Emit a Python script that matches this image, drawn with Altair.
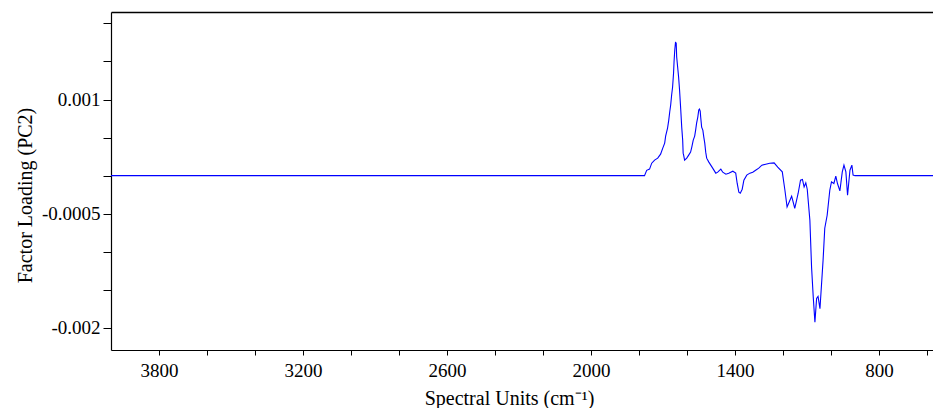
import altair as alt
import pandas as pd

# Spectral units (cm^-1)
wavenumber = [
    4000, 1777, 1768, 1756, 1747, 1735, 1722, 1710, 1701, 1693, 1689, 1681, 1676,
    1672, 1668, 1664, 1660, 1656, 1654, 1651, 1648, 1645, 1643, 1639, 1635, 1631,
    1626, 1622, 1618, 1616, 1614, 1610, 1601, 1593, 1585, 1580, 1574, 1568, 1564,
    1560, 1555, 1551, 1548, 1545, 1543, 1539, 1534, 1530, 1526, 1522, 1518, 1509,
    1501, 1493, 1480, 1472, 1459, 1451, 1438, 1426, 1409, 1397, 1391, 1384, 1378,
    1370, 1363, 1351, 1338, 1326, 1314, 1301, 1288, 1272, 1255, 1237, 1222, 1203,
    1192, 1183, 1164, 1151, 1137, 1127, 1119, 1112, 1105, 1099, 1088, 1081, 1074,
    1067, 1060, 1054, 1046, 1033, 1026, 1016, 1005, 998, 988, 980, 973, 963, 953,
    946, 938, 931, 921, 913, 908, 900, 575,
]
# Factor loading (PC2)
loading = [
    0.0, 0.0, 0.070e-3, 0.086e-3, 0.164e-3, 0.204e-3, 0.230e-3, 0.283e-3, 0.362e-3,
    0.428e-3, 0.520e-3, 0.625e-3, 0.730e-3, 0.836e-3, 0.928e-3, 1.059e-3, 1.164e-3,
    1.349e-3, 1.493e-3, 1.651e-3, 1.750e-3, 1.743e-3, 1.559e-3, 1.428e-3, 1.296e-3,
    1.125e-3, 0.862e-3, 0.638e-3, 0.467e-3, 0.296e-3, 0.270e-3, 0.204e-3, 0.230e-3,
    0.270e-3, 0.309e-3, 0.375e-3, 0.467e-3, 0.520e-3, 0.599e-3, 0.691e-3, 0.770e-3,
    0.862e-3, 0.875e-3, 0.849e-3, 0.770e-3, 0.638e-3, 0.599e-3, 0.507e-3, 0.428e-3,
    0.309e-3, 0.230e-3, 0.178e-3, 0.138e-3, 0.099e-3, 0.033e-3, 0.046e-3, 0.086e-3,
    0.046e-3, 0.020e-3, 0.033e-3, 0.059e-3, 0.033e-3, -0.099e-3, -0.217e-3,
    -0.230e-3, -0.178e-3, -0.059e-3, 0.007e-3, 0.033e-3, 0.046e-3, 0.072e-3,
    0.099e-3, 0.138e-3, 0.151e-3, 0.164e-3, 0.168e-3, 0.112e-3, 0.050e-3,
    -0.191e-3, -0.411e-3, -0.270e-3, -0.428e-3, -0.234e-3, -0.059e-3, -0.050e-3,
    -0.147e-3, -0.095e-3, -0.178e-3, -0.586e-3, -1.200e-3, -1.595e-3, -1.924e-3,
    -1.612e-3, -1.586e-3, -1.747e-3, -1.112e-3, -0.691e-3, -0.520e-3, -0.191e-3,
    -0.082e-3, -0.103e-3, -0.007e-3, -0.103e-3, -0.200e-3, 0.050e-3, 0.138e-3,
    0.050e-3, -0.257e-3, 0.072e-3, 0.138e-3, 0.007e-3, 0.0, 0.0,
]

x_ticks = [3800, 3600, 3400, 3200, 3000, 2800, 2600, 2400, 2200, 2000, 1800,
           1600, 1400, 1200, 1000, 800, 600]
x_labeled = [3800, 3200, 2600, 2000, 1400, 800]
y_ticks = [0.002, 0.0015, 0.001, 0.0005, 0.0, -0.0005, -0.001, -0.0015, -0.002]
y_labeled = [0.001, -0.0005, -0.002]
y_label_text = ["0.001", "-0.0005", "-0.002"]

x_domain = [575, 4000]
y_domain = [-0.00229, 0.00215]

df = pd.DataFrame({"wn": wavenumber, "pc2": loading, "idx": list(range(len(wavenumber)))})

x_label_expr = "".join(
    f"datum.value == {v} ? '{v}' : " for v in x_labeled
) + "''"
y_label_expr = "".join(
    f"abs(datum.value - ({v})) < 1e-12 ? '{t}' : " for v, t in zip(y_labeled, y_label_text)
) + "''"

FONT = "Liberation Serif"

x_scale = alt.Scale(domain=x_domain, reverse=True, nice=False, zero=False)
y_scale = alt.Scale(domain=y_domain, nice=False, zero=False)

line = alt.Chart(df).mark_line(color="#0000ff", strokeWidth=1.1, clip=True).encode(
    x=alt.X(
        "wn:Q",
        scale=x_scale,
        axis=alt.Axis(
            values=x_ticks,
            labelExpr=x_label_expr,
            title="Spectral Units (cm⁻¹)",
            titleX=398,
            titleY=54,
            titleBaseline="alphabetic",
            tickSize=5,
            labelPadding=6,
            labelFlush=False,
            labelOverlap=False,
        ),
    ),
    y=alt.Y(
        "pc2:Q",
        scale=y_scale,
        axis=alt.Axis(
            values=y_ticks,
            labelExpr=y_label_expr,
            title="Factor Loading (PC2)",
            titleX=-80,
            titleY=183,
            titleBaseline="alphabetic",
            titleAngle=270,
            tickSize=8,
            labelPadding=3,
            labelFlush=False,
            labelOverlap=False,
        ),
    ),
    order=alt.Order("idx:Q"),
)

top = alt.Chart(df).mark_point(opacity=0).encode(
    x=alt.X(
        "wn:Q",
        scale=x_scale,
        axis=alt.Axis(orient="top", ticks=False, labels=False, title=None, domainWidth=1.6),
    ),
)

chart = (
    alt.layer(line, top)
    .resolve_axis(x="independent")
    .properties(
        width=822,
        height=338,
        background="#ffffff",
        autosize=alt.AutoSizeParams(type="none"),
        padding={"left": 111, "top": 12, "right": 0, "bottom": 58},
    )
    .configure_view(stroke=None)
    .configure_axis(
        grid=False,
        domainColor="#000000",
        domainWidth=1.2,
        tickColor="#000000",
        tickWidth=1,
        labelColor="#000000",
        labelFont=FONT,
        labelFontSize=19,
        titleColor="#000000",
        titleFont=FONT,
        titleFontSize=20,
        titleFontWeight="normal",
    )
)

chart.save("out.html", embed_options={"renderer": "svg", "actions": False})
